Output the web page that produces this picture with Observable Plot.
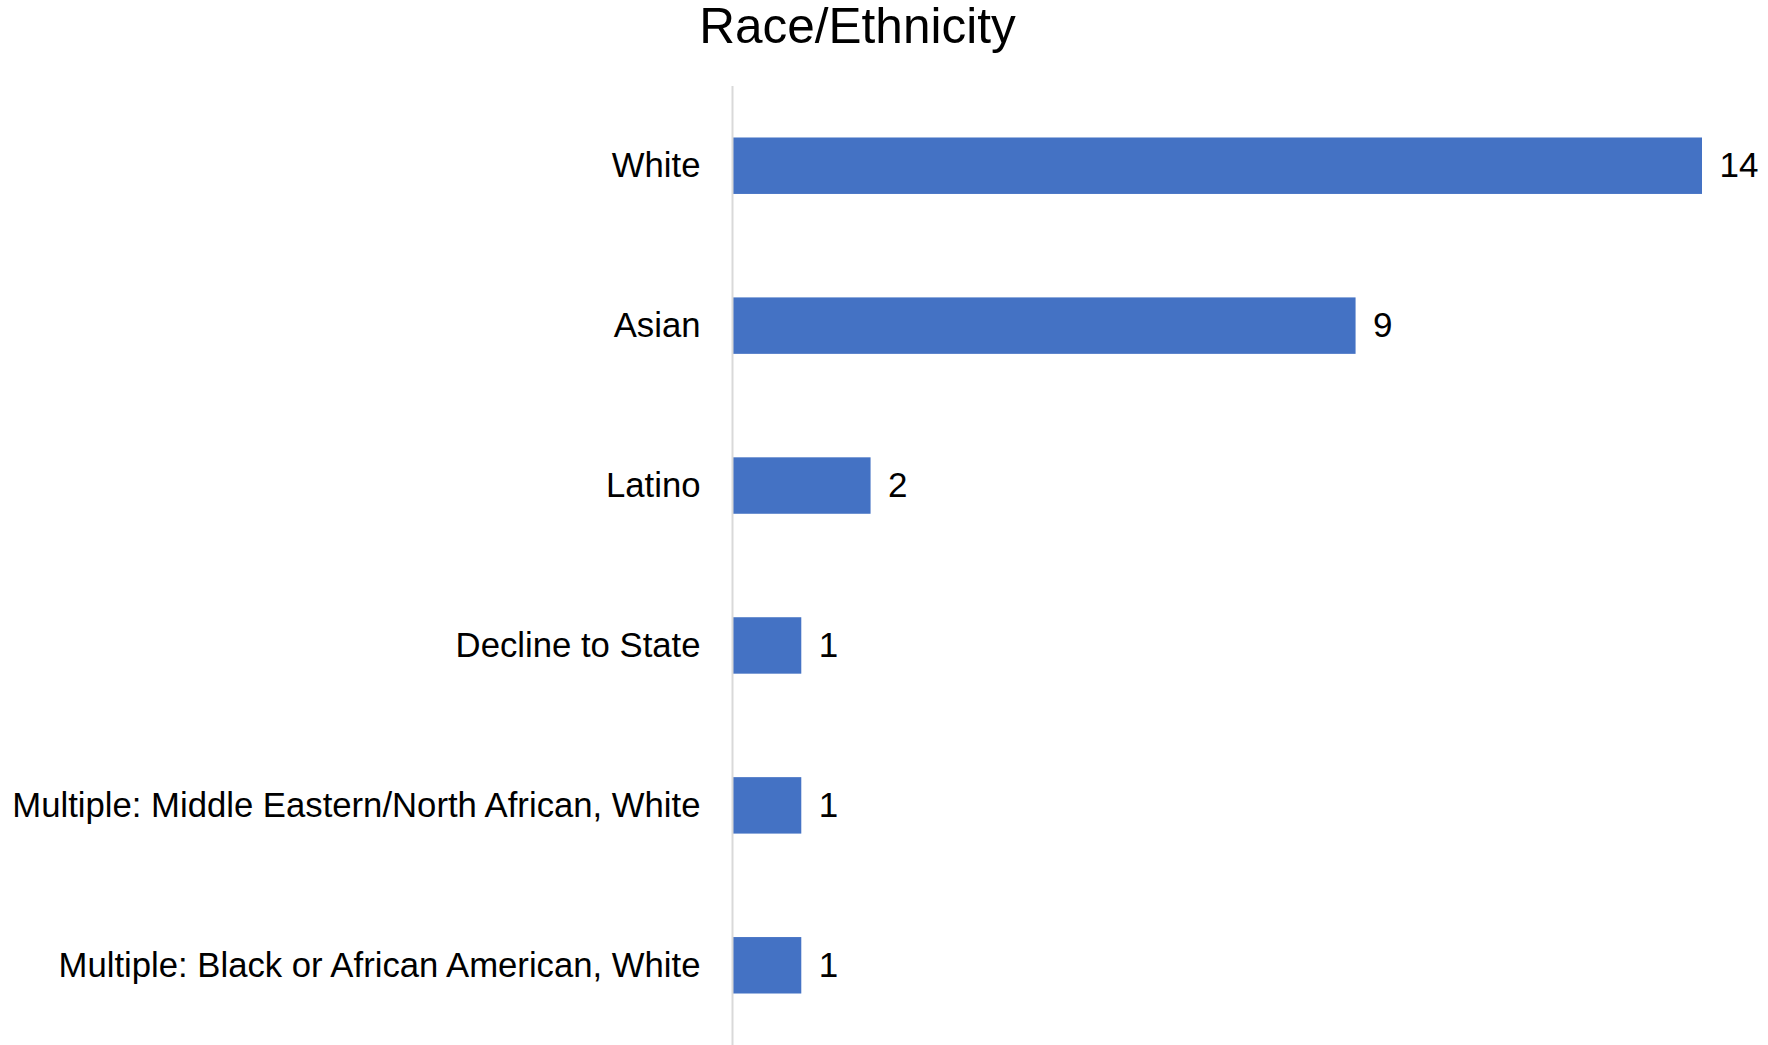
<!DOCTYPE html>
<html>
<head>
<meta charset="utf-8">
<script src="https://cdn.jsdelivr.net/npm/d3@7"></script>
<script src="https://cdn.jsdelivr.net/npm/@observablehq/plot@0.6"></script>
<style>
  html, body { margin: 0; padding: 0; background: #fff; }
  body { width: 1768px; height: 1045px; overflow: hidden; font-family: "Liberation Sans", Arial, sans-serif; }
  #title { width: 1768px; box-sizing: border-box; padding-right: 53px; text-align: center; font-size: 49.5px; line-height: 52px; height: 52px; margin-bottom: 18px; color: #000; }
  #chart svg { display: block; }
</style>
</head>
<body>
<div id="title">Race/Ethnicity</div>
<div id="chart"></div>
<script>
const categories = [
  "White",
  "Asian",
  "Latino",
  "Decline to State",
  "Multiple: Middle Eastern/North African, White",
  "Multiple: Black or African American, White"
];
const values = [14, 9, 2, 1, 1, 1];

const data = categories.map((c, i) => ({category: c, value: values[i]}));

const chart = Plot.plot({
  width: 1768,
  height: 975,
  marginLeft: 732,
  marginRight: 66,
  marginTop: 16,
  marginBottom: 0,
  style: {fontFamily: "'Liberation Sans', Arial, sans-serif", fontSize: "34.7px", color: "#000", background: "#fff"},
  x: {domain: [0, 14], axis: null},
  y: {domain: categories, paddingInner: 0.647, paddingOuter: 0.322, round: false, label: null},
  marks: [
    Plot.barX(data, {y: "category", x: "value", fill: "#4472C4"}),
    Plot.ruleX([0], {stroke: "#d9d9d9", strokeWidth: 2}),
    Plot.axisY({tickSize: 0, tickPadding: 32, fontSize: 34.7, fill: "#000", label: null}),
    Plot.text(data, {y: "category", x: "value", text: d => String(d.value), textAnchor: "start", dx: 17, fontSize: 35, fill: "#000"})
  ]
});
document.getElementById("chart").appendChild(chart);
</script>
</body>
</html>
